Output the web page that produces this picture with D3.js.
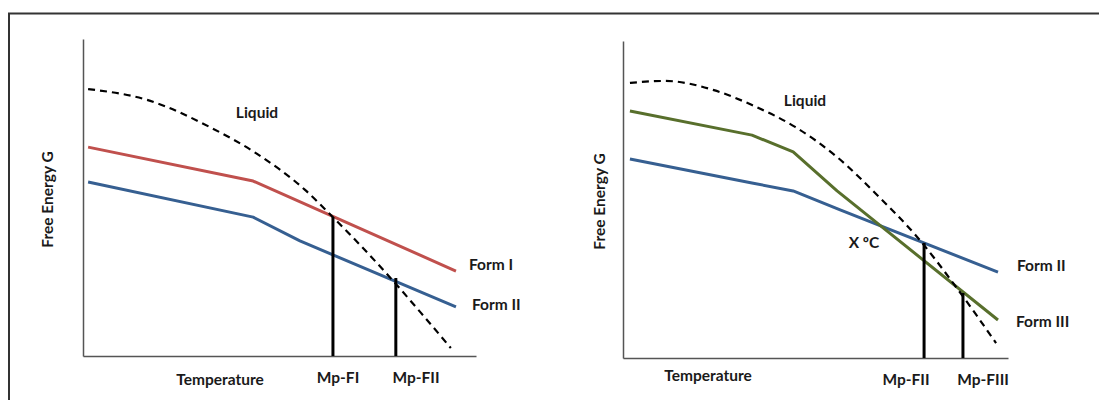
<!DOCTYPE html>
<html lang="en">
<head>
    <meta charset="UTF-8">
    <title>Free energy vs temperature</title>
    <style>
        body { margin: 0; background: #ffffff; }
        text { font-family: Lato, "Open Sans", sans-serif; font-weight: bold; fill: #1a1a1a; }
    </style>
    <script src="https://cdn.jsdelivr.net/npm/d3@7/dist/d3.min.js"></script>
</head>
<body>
<div id="main"></div>
<script>
    // values are in chart units: t = temperature 0..100, g = free energy 0..100

    // left panel: Form I (metastable) vs Form II
    const leftLiquid = [[1.3, 84.2], [16.3, 80.8], [32.3, 72.2], [44.0, 64.0], [56.5, 52.4],
                        [63.6, 43.8], [77.1, 26.2], [86.0, 13.6], [93.6, 2.5]];
    const leftFormI  = [[1.3, 65.9], [43.3, 55.2], [94.9, 26.8]];
    const leftFormII = [[1.3, 54.9], [43.3, 43.8], [55.2, 36.3], [94.9, 15.5]];
    const leftMelts  = [{label: 'Mp-FI', t: 63.6, g: 43.8}, {label: 'Mp-FII', t: 79.6, g: 24.6}];

    // right panel: Form II vs Form III (enantiotropic)
    const rightLiquid  = [[1.8, 86.8], [10.9, 87.4], [23.6, 84.5], [33.5, 79.8], [44.7, 72.9],
                          [55.6, 63.4], [66.5, 50.8], [76.4, 38.2], [86.5, 22.4], [96.9, 4.7]];
    const rightFormII  = [[1.8, 62.8], [33.5, 55.2], [44.2, 52.7], [56.4, 46.7], [97.4, 27.1]];
    const rightFormIII = [[1.8, 77.9], [33.5, 70.3], [44.2, 65.0], [55.6, 52.7], [97.4, 12.0]];
    const rightMelts   = [{label: 'Mp-FII', t: 78.2, g: 36.3}, {label: 'Mp-FIII', t: 88.3, g: 20.5}];

    const colors = {formI: '#c0504d', formII: '#365f91', formIII: '#586f2c', liquid: '#000000'};

    const svg = d3.select('#main').append('svg')
        .attr('width', 1099)
        .attr('height', 400);

    // outer frame (top + left only, the rest is cropped off)
    svg.append('path')
        .attr('d', 'M9,400 V13.5 H1099')
        .attr('fill', 'none')
        .attr('stroke', '#333')
        .attr('stroke-width', 2);

    drawPanel({
        x0: 83, x1: 476, y0: 356, y1: 39,
        liquid: leftLiquid,
        solids: [{data: leftFormI, color: colors.formI}, {data: leftFormII, color: colors.formII}],
        melts: leftMelts,
        meltLabelX: [338, 416], meltLabelY: 383,
        labels: [
            {text: 'Liquid', x: 257, y: 118, anchor: 'middle'},
            {text: 'Form I', x: 469, y: 270, anchor: 'start'},
            {text: 'Form II', x: 472, y: 310, anchor: 'start'},
            {text: 'Temperature', x: 220, y: 385, anchor: 'middle'}
        ],
        yTitleX: 53
    });

    drawPanel({
        x0: 623, x1: 1008, y0: 358, y1: 41,
        liquid: rightLiquid,
        solids: [{data: rightFormII, color: colors.formII}, {data: rightFormIII, color: colors.formIII}],
        melts: rightMelts,
        meltLabelX: [906, 983], meltLabelY: 385,
        labels: [
            {text: 'Liquid', x: 805, y: 106, anchor: 'middle'},
            {text: 'X \u00BAC', x: 864, y: 248, anchor: 'middle'},
            {text: 'Form II', x: 1017, y: 271, anchor: 'start'},
            {text: 'Form III', x: 1016, y: 327, anchor: 'start'},
            {text: 'Temperature', x: 708, y: 381, anchor: 'middle'}
        ],
        yTitleX: 605
    });

    function drawPanel(p) {
        const x = d3.scaleLinear().domain([0, 100]).range([p.x0, p.x1]);
        const y = d3.scaleLinear().domain([0, 100]).range([p.y0, p.y1]);
        const g = svg.append('g');

        // axes without ticks
        g.append('g')
            .attr('transform', `translate(0,${p.y0})`)
            .call(d3.axisBottom(x).tickValues([]).tickSizeOuter(0))
            .select('.domain').attr('stroke', '#555').attr('stroke-width', 1.5);
        g.append('g')
            .attr('transform', `translate(${p.x0},0)`)
            .call(d3.axisLeft(y).tickValues([]).tickSizeOuter(0))
            .select('.domain').attr('stroke', '#555').attr('stroke-width', 1.5);

        const line = d3.line().x(d => x(d[0])).y(d => y(d[1]));

        p.solids.forEach(s => {
            g.append('path')
                .datum(s.data)
                .attr('d', line)
                .attr('fill', 'none')
                .attr('stroke', s.color)
                .attr('stroke-width', 3)
                .attr('stroke-linejoin', 'round');
        });

        g.append('path')
            .datum(p.liquid)
            .attr('d', line.curve(d3.curveMonotoneX))
            .attr('fill', 'none')
            .attr('stroke', colors.liquid)
            .attr('stroke-width', 2.2)
            .attr('stroke-dasharray', '7,5');

        // melting point drop lines
        g.selectAll('.melt')
            .data(p.melts)
            .enter()
            .append('line')
            .attr('x1', d => x(d.t)).attr('x2', d => x(d.t))
            .attr('y1', d => y(d.g)).attr('y2', p.y0)
            .attr('stroke', '#000')
            .attr('stroke-width', 3);

        g.selectAll('.meltLabel')
            .data(p.melts)
            .enter()
            .append('text')
            .attr('x', (d, i) => p.meltLabelX[i])
            .attr('y', p.meltLabelY)
            .attr('text-anchor', 'middle')
            .style('font-size', '15.5px')
            .text(d => d.label);

        g.selectAll('.lbl')
            .data(p.labels)
            .enter()
            .append('text')
            .attr('x', d => d.x)
            .attr('y', d => d.y)
            .attr('text-anchor', d => d.anchor)
            .style('font-size', '15.5px')
            .text(d => d.text);

        g.append('text')
            .attr('transform', `translate(${p.yTitleX},${(p.y0 + p.y1) / 2 + 2}) rotate(-90)`)
            .attr('text-anchor', 'middle')
            .style('font-size', '15.5px')
            .text('Free Energy G');
    }
</script>
</body>
</html>
